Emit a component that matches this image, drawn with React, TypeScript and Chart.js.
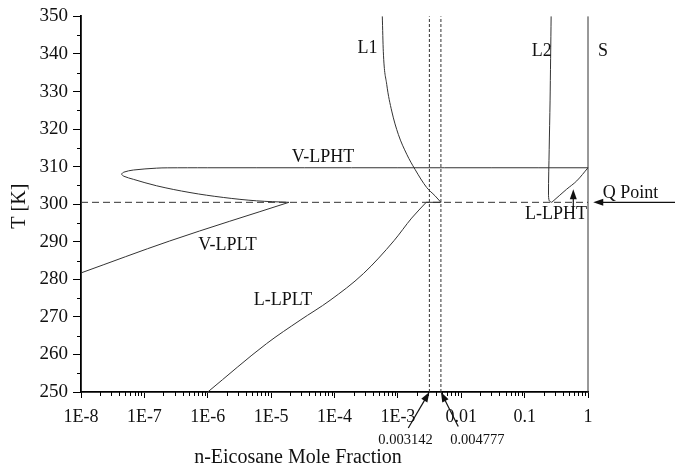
import React, { useEffect, useRef } from 'react';
import { Chart, registerables } from 'chart.js';

Chart.register(...registerables);

// Axis ticks
const xTickValues = [1e-8, 1e-7, 1e-6, 1e-5, 1e-4, 1e-3, 1e-2, 1e-1, 1];
const xTickLabels = ['1E-8', '1E-7', '1E-6', '1E-5', '1E-4', '1E-3', '0.01', '0.1', '1'];
const yTickValues = [250, 260, 270, 280, 290, 300, 310, 320, 330, 340, 350];
const yMinorValues = [255, 265, 275, 285, 295, 305, 315, 325, 335, 345];
const xMinorMultipliers = [2, 3, 4, 5, 6, 7, 8, 9];

// Special values
const qPointT = 300.5;
const markFractions = [0.003142, 0.004777];

// V-LPHT (upper vapour branch, with the loop)
const vlphtX = [1, 1e-6, 2.3e-7, 1.56e-7, 6.7e-8, 4.77e-8, 4.38e-8, 4.77e-8, 6.7e-8, 1.56e-7, 5.25e-7, 1.76e-6, 5.9e-6, 1.91e-5];
const vlphtT = [309.7, 309.7, 309.68, 309.6, 309.1, 308.54, 308.0, 307.43, 306.63, 304.9, 303.1, 301.8, 300.9, 300.5];

// V-LPLT
const vlpltX = [1e-8, 2.5e-7, 1.91e-5];
const vlpltT = [281.7, 290.2, 300.5];

// L1
const l1X = [5.68e-4, 5.89e-4, 6.67e-4, 8.0e-4, 1.016e-3, 1.38e-3, 1.86e-3, 2.85e-3, 3.85e-3, 4.777e-3];
const l1T = [350, 340.7, 331.9, 324.8, 318.6, 313.3, 309.3, 304.45, 302.25, 300.5];

// L-LPLT
const llpltX = [1e-6, 8.5e-6, 2.86e-5, 8.5e-5, 2.85e-4, 8.7e-4, 1.65e-3, 2.8e-3];
const llpltT = [250, 262.9, 269.1, 274.4, 281.5, 290.3, 296.3, 300.5];

// short tie segment on the Q line
const tieX = [2.8e-3, 4.777e-3];
const tieT = [300.5, 300.5];

// L2
const l2X = [0.262, 0.252, 0.244, 0.238, 0.245, 0.268];
const l2T = [350, 327.5, 314.5, 302.7, 300.9, 300.5];

// L-LPHT
const llphtX = [0.268, 0.461, 0.664, 1];
const llphtT = [300.5, 304.0, 306.2, 309.7];

// S
const sX = [1, 1];
const sT = [250, 350];

// Text labels (data coordinates)
const labelTexts = ['L1', 'L2', 'S', 'V-LPHT', 'V-LPLT', 'L-LPLT', 'L-LPHT', 'Q Point'];
const labelX = [3.32e-4, 0.186, 1.73, 6.59e-5, 2.05e-6, 1.54e-5, 0.313, 4.69];
const labelT = [341.6, 340.7, 340.7, 312.6, 289.0, 274.4, 297.2, 302.9];

const fracTexts = ['0.003142', '0.004777'];
const fracX = [1.32e-3, 0.018];
const fracT = [237.1, 237.1];

// Arrows (from -> to, data coordinates)
const arrowFromX = [23.6, 0.586, 1.46e-3, 8.97e-3];
const arrowFromT = [300.5, 297.5, 240.4, 240.8];
const arrowToX = [1.21, 0.586, 0.003142, 0.004777];
const arrowToT = [300.5, 304.0, 250, 250];

const xTitle = 'n-Eicosane Mole Fraction';
const yTitle = 'T [K]';

const FONT = '"Liberation Serif", "Times New Roman", serif';
const LINE = '#333';

const pts = (xs: number[], ys: number[]) => xs.map((x, i) => ({ x, y: ys[i] }));

function drawArrow(ctx: CanvasRenderingContext2D, x1: number, y1: number, x2: number, y2: number) {
  const ang = Math.atan2(y2 - y1, x2 - x1);
  const len = 10;
  const hw = 3.5;
  ctx.beginPath();
  ctx.moveTo(x1, y1);
  ctx.lineTo(x2 - Math.cos(ang) * len * 0.8, y2 - Math.sin(ang) * len * 0.8);
  ctx.stroke();
  ctx.beginPath();
  ctx.moveTo(x2, y2);
  ctx.lineTo(x2 - Math.cos(ang) * len - Math.sin(ang) * hw, y2 - Math.sin(ang) * len + Math.cos(ang) * hw);
  ctx.lineTo(x2 - Math.cos(ang) * len + Math.sin(ang) * hw, y2 - Math.sin(ang) * len - Math.cos(ang) * hw);
  ctx.closePath();
  ctx.fill();
}

const overlayPlugin = {
  id: 'overlay',
  afterDraw(chart: any) {
    const ctx: CanvasRenderingContext2D = chart.ctx;
    const xs = chart.scales.x;
    const ys = chart.scales.y;
    const area = chart.chartArea;
    ctx.save();
    // minor ticks
    ctx.strokeStyle = '#000';
    ctx.lineWidth = 1;
    ctx.beginPath();
    yMinorValues.forEach((v) => {
      const py = Math.round(ys.getPixelForValue(v)) + 0.5;
      ctx.moveTo(area.left - 4, py);
      ctx.lineTo(area.left, py);
    });
    for (let i = 0; i < xTickValues.length - 1; i++) {
      xMinorMultipliers.forEach((m) => {
        const px = Math.round(xs.getPixelForValue(xTickValues[i] * m)) + 0.5;
        ctx.moveTo(px, area.bottom);
        ctx.lineTo(px, area.bottom + 4);
      });
    }
    ctx.stroke();

    // labels
    ctx.fillStyle = '#111';
    ctx.textAlign = 'center';
    ctx.textBaseline = 'middle';
    ctx.font = `18px ${FONT}`;
    labelTexts.forEach((t, i) => {
      ctx.fillText(t, xs.getPixelForValue(labelX[i]), ys.getPixelForValue(labelT[i]));
    });
    ctx.font = `14.5px ${FONT}`;
    fracTexts.forEach((t, i) => {
      ctx.fillText(t, xs.getPixelForValue(fracX[i]), ys.getPixelForValue(fracT[i]));
    });

    // arrows
    ctx.strokeStyle = '#111';
    ctx.fillStyle = '#111';
    ctx.lineWidth = 1.2;
    arrowFromX.forEach((_, i) => {
      drawArrow(
        ctx,
        xs.getPixelForValue(arrowFromX[i]),
        ys.getPixelForValue(arrowFromT[i]),
        xs.getPixelForValue(arrowToX[i]),
        ys.getPixelForValue(arrowToT[i])
      );
    });

    // axis titles
    ctx.fillStyle = '#111';
    ctx.font = `20px ${FONT}`;
    ctx.fillText(xTitle, 298, 458);
    ctx.translate(20, (area.top + area.bottom) / 2 + 2);
    ctx.rotate(-Math.PI / 2);
    ctx.fillText(yTitle, 0, 0);
    ctx.restore();
  },
};

export default function App() {
  const ref = useRef<HTMLCanvasElement | null>(null);
  useEffect(() => {
    if (!ref.current) return;
    const base = { showLine: true, pointRadius: 0, borderColor: LINE, borderWidth: 1, clip: false as any };
    const mono = { cubicInterpolationMode: 'monotone' };
    const chart = new Chart(ref.current, {
      type: 'scatter',
      data: {
        datasets: [
          { ...base, data: pts([1e-8, 1], [qPointT, qPointT]), borderDash: [7, 4] },
          { ...base, data: pts([markFractions[0], markFractions[0]], [250, 350]), borderDash: [3, 2] },
          { ...base, data: pts([markFractions[1], markFractions[1]], [250, 350]), borderDash: [3, 2] },
          { ...base, data: pts(vlphtX, vlphtT), tension: 0.35 },
          { ...base, ...mono, data: pts(vlpltX, vlpltT) },
          { ...base, ...mono, data: pts(l1X, l1T) },
          { ...base, ...mono, data: pts(llpltX, llpltT) },
          { ...base, data: pts(tieX, tieT), tension: 0 },
          { ...base, data: pts(l2X, l2T), tension: 0.3 },
          { ...base, ...mono, data: pts(llphtX, llphtT) },
          { ...base, data: pts(sX, sT), tension: 0 },
        ] as any,
      },
      options: {
        animation: false,
        responsive: false,
        layout: { padding: { left: 0, right: 87, top: 15, bottom: 0 } },
        plugins: { legend: { display: false }, tooltip: { enabled: false } },
        scales: {
          x: {
            type: 'logarithmic',
            min: 1e-8,
            max: 1,
            afterBuildTicks: (s: any) => {
              s.ticks = xTickValues.map((v) => ({ value: v }));
            },
            afterFit: (s: any) => {
              s.height = 78;
            },
            ticks: {
              autoSkip: false,
              maxRotation: 0,
              padding: 8,
              color: '#111',
              font: { family: FONT, size: 18 },
              callback: (v: any) => {
                const i = xTickValues.findIndex((t) => Math.abs(Math.log10(t) - Math.log10(Number(v))) < 1e-6);
                return i >= 0 ? xTickLabels[i] : '';
              },
            },
            grid: { drawOnChartArea: false, tickLength: 6, color: '#000' },
            border: { display: true, color: '#000', width: 1.8 },
          },
          y: {
            type: 'linear',
            min: 250,
            max: 350,
            afterBuildTicks: (s: any) => {
              s.ticks = yTickValues.map((v) => ({ value: v }));
            },
            afterFit: (s: any) => {
              s.width = 81;
            },
            ticks: {
              padding: 5,
              color: '#111',
              font: { family: FONT, size: 19 },
            },
            grid: { drawOnChartArea: false, tickLength: 8, color: '#000' },
            border: { display: true, color: '#000', width: 1.8 },
          },
        },
      } as any,
      plugins: [overlayPlugin],
    });
    return () => chart.destroy();
  }, []);
  return (
    <div style={{ position: 'fixed', left: 0, top: 0, width: 675, height: 470, background: '#fff' }}>
      <canvas ref={ref} width={675} height={470} style={{ width: 675, height: 470 }} />
    </div>
  );
}
